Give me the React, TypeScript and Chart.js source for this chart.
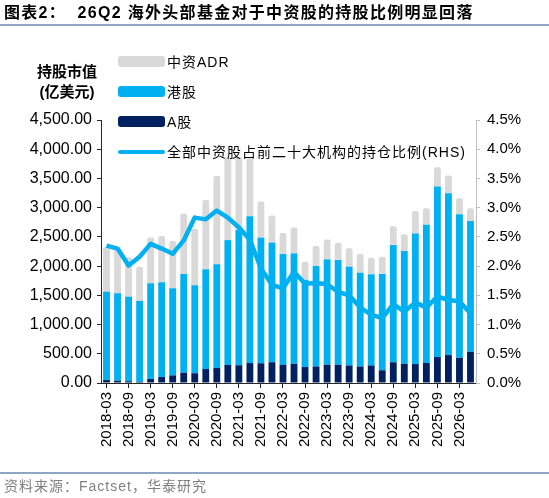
import React, { useRef, useEffect } from 'react';
import { Chart, registerables } from 'chart.js';

Chart.register(...registerables);

// quarter ends, 2018-03 .. 2026-06
const quarters = [
  '2018-03', '2018-06', '2018-09', '2018-12',
  '2019-03', '2019-06', '2019-09', '2019-12',
  '2020-03', '2020-06', '2020-09', '2020-12',
  '2021-03', '2021-06', '2021-09', '2021-12',
  '2022-03', '2022-06', '2022-09', '2022-12',
  '2023-03', '2023-06', '2023-09', '2023-12',
  '2024-03', '2024-06', '2024-09', '2024-12',
  '2025-03', '2025-06', '2025-09', '2025-12',
  '2026-03', '2026-06',
];

// 亿美元
const aShares = [50, 40, 30, 20, 68, 102, 130, 176, 167, 239, 256, 309, 304, 341, 338, 355, 312, 329, 273, 283, 312, 312, 300, 283, 300, 218, 355, 329, 324, 343, 444, 478, 432, 534];
const hkShares = [1513, 1496, 1448, 1384, 1639, 1622, 1491, 1689, 1505, 1706, 1776, 2136, 2312, 2514, 2150, 2048, 1894, 1889, 1490, 1719, 1804, 1792, 1690, 1604, 1560, 1647, 2005, 1929, 2236, 2363, 2918, 2769, 2457, 2236];
const adrShares = [768, 768, 672, 586, 784, 790, 807, 1036, 966, 1188, 1511, 1417, 1246, 990, 618, 461, 359, 444, 312, 341, 341, 295, 314, 319, 283, 295, 324, 286, 384, 285, 329, 302, 273, 218];

// RHS, %
const holdingRatio = [2.35, 2.30, 2.01, 2.16, 2.38, 2.30, 2.21, 2.44, 2.83, 2.80, 2.95, 2.83, 2.66, 2.45, 1.96, 1.68, 1.62, 1.90, 1.70, 1.71, 1.69, 1.56, 1.50, 1.29, 1.17, 1.11, 1.35, 1.22, 1.38, 1.29, 1.48, 1.42, 1.40, 1.19];

const NAVY = '#002060';
const SKY = '#00B0F0';
const GREY = '#D9D9D9';
const FONT = "'Liberation Sans', 'Noto Sans CJK SC', sans-serif";

const legendItems = [
  { label: '中资ADR', color: GREY, line: false },
  { label: '港股', color: SKY, line: false },
  { label: 'A股', color: NAVY, line: false },
  { label: '全部中资股占前二十大机构的持仓比例(RHS)', color: SKY, line: true },
];

const App: React.FC = () => {
  const canvasRef = useRef<HTMLCanvasElement | null>(null);
  const chartRef = useRef<Chart | null>(null);

  useEffect(() => {
    if (chartRef.current) chartRef.current.destroy();
    const ctx = canvasRef.current?.getContext('2d');
    if (!ctx) return;

    chartRef.current = new Chart(ctx, {
      type: 'bar',
      data: {
        labels: quarters,
        datasets: [
          {
            type: 'line',
            label: '全部中资股占前二十大机构的持仓比例(RHS)',
            data: holdingRatio,
            yAxisID: 'y1',
            borderColor: SKY,
            borderWidth: 4.5,
            pointRadius: 0,
            tension: 0,
            borderJoinStyle: 'round',
            order: 0,
          },
          { label: 'A股', data: aShares, backgroundColor: NAVY, yAxisID: 'y', order: 1, barPercentage: 0.62, categoryPercentage: 1, borderRadius: 2 },
          { label: '港股', data: hkShares, backgroundColor: SKY, yAxisID: 'y', order: 1, barPercentage: 0.62, categoryPercentage: 1, borderRadius: 2 },
          { label: '中资ADR', data: adrShares, backgroundColor: GREY, yAxisID: 'y', order: 1, barPercentage: 0.62, categoryPercentage: 1, borderRadius: 2 },
        ],
      } as any,
      options: {
        animation: false,
        responsive: true,
        maintainAspectRatio: false,
        layout: { padding: { top: 120, left: 0, right: 0, bottom: 0 } },
        plugins: { legend: { display: false }, tooltip: { enabled: false } },
        scales: {
          x: {
            stacked: true,
            offset: true,
            grid: {
              offset: false,
              drawOnChartArea: false,
              tickLength: 5,
              color: (c: any) => (c.index % 2 === 0 ? '#262626' : 'rgba(0,0,0,0)'),
            },
            border: { color: '#262626' },
            ticks: {
              autoSkip: false,
              minRotation: 90,
              maxRotation: 90,
              padding: 4,
              color: '#000',
              font: { family: FONT, size: 15 },
              callback: (_v: any, i: number) => (i % 2 === 0 ? quarters[i] : ''),
            },
            afterFit: (s: any) => { s.height = 115; },
          },
          y: {
            stacked: true,
            position: 'left',
            min: 0,
            max: 4500,
            grid: { drawOnChartArea: false, tickLength: 4, color: '#262626' },
            border: { color: '#262626' },
            ticks: {
              stepSize: 500,
              padding: 5,
              color: '#000',
              font: { family: FONT, size: 16 },
              callback: (v: any) => Number(v).toLocaleString('en-US', { minimumFractionDigits: 2, maximumFractionDigits: 2 }),
            },
            afterFit: (s: any) => { s.width = 101; },
          },
          y1: {
            position: 'right',
            min: 0,
            max: 4.5,
            grid: { drawOnChartArea: false, tickLength: 4, color: '#BFBFBF' },
            border: { color: '#BFBFBF' },
            ticks: {
              stepSize: 0.5,
              padding: 7,
              color: '#000',
              font: { family: FONT, size: 15 },
              callback: (v: any) => Number(v).toFixed(1) + '%',
            },
            afterFit: (s: any) => { s.width = 73; },
          },
        },
      } as any,
    });

    return () => {
      if (chartRef.current) {
        chartRef.current.destroy();
        chartRef.current = null;
      }
    };
  }, []);

  return (
    <div style={{ position: 'relative', width: 549, height: 498, overflow: 'hidden', background: '#fff', fontFamily: FONT }}>
      <style>{'body{margin:0}'}</style>
      <div style={{ position: 'absolute', inset: 0 }}>
        <canvas ref={canvasRef} />
      </div>

      <div style={{ position: 'absolute', left: 4, top: 3, fontSize: 16, fontWeight: 'bold', letterSpacing: 1.3, whiteSpace: 'pre', color: '#000', lineHeight: '20px' }}>
        {'图表2：  26Q2 海外头部基金对于中资股的持股比例明显回落'}
      </div>
      <div style={{ position: 'absolute', left: 0, right: 0, top: 24, height: 2, background: '#8EA5C3' }} />

      <div style={{ position: 'absolute', left: 27, width: 80, top: 62, textAlign: 'center', fontSize: 15, fontWeight: 'bold', lineHeight: '20px', color: '#000' }}>
        <div>持股市值</div>
        <div>(亿美元)</div>
      </div>

      {legendItems.map((it, i) => {
        const cy = 61.7 + i * 30;
        return (
          <div key={it.label}>
            <div
              style={{
                position: 'absolute',
                left: 118,
                width: 47,
                top: it.line ? cy - 2 : cy - 5.5,
                height: it.line ? 4 : 11,
                borderRadius: it.line ? 2 : 3,
                background: it.color,
              }}
            />
            <div style={{ position: 'absolute', left: 167, top: cy - 10, lineHeight: '20px', fontSize: 14, letterSpacing: 1, whiteSpace: 'nowrap', color: '#000' }}>
              {it.label}
            </div>
          </div>
        );
      })}

      <div style={{ position: 'absolute', left: 0, right: 0, top: 472, height: 2, background: '#8EA5C3' }} />
      <div style={{ position: 'absolute', left: 4, top: 477, fontSize: 14, letterSpacing: 1, color: '#7F7F7F', lineHeight: '18px', whiteSpace: 'nowrap' }}>
        资料来源：Factset，华泰研究
      </div>
    </div>
  );
};

export default App;
